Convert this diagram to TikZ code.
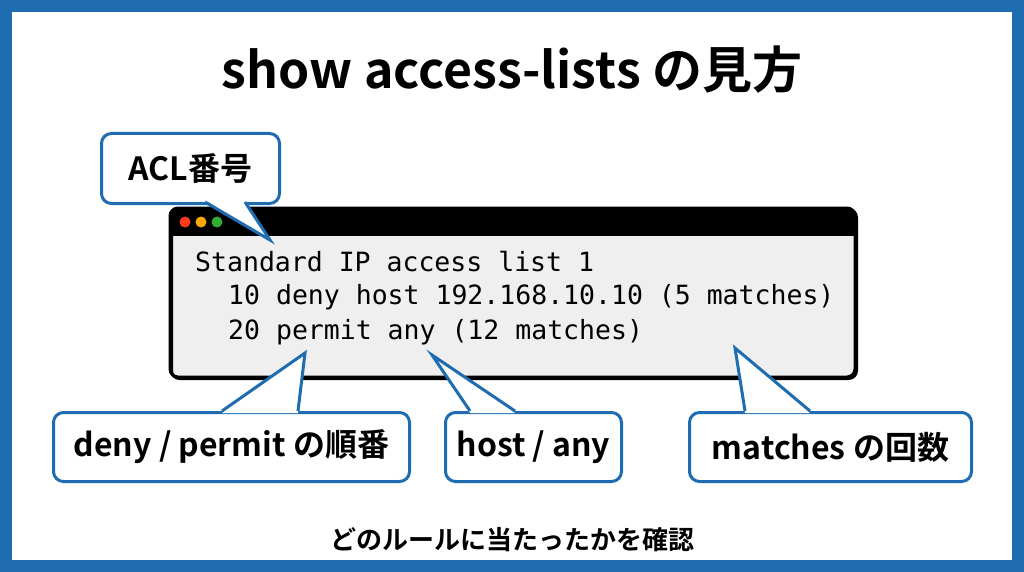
\documentclass[tikz,border=0pt]{standalone}
\usepackage{fontspec}
\newfontfamily\jp{Noto Sans CJK JP Bold}
\newfontfamily\mono{DejaVu Sans Mono}
\begin{document}
\begin{tikzpicture}[x=1pt,y=-1pt,
  callout/.style={draw=cblue,line width=3pt,fill=white,rounded corners=10pt,inner sep=0pt,anchor=north west,font=\jp\fontsize{32}{34}\selectfont},
  tail/.style={draw=cblue,line width=3pt,line join=miter},
  code/.style={anchor=west,inner sep=0pt,font=\mono\fontsize{26.5}{28}\selectfont}]
\definecolor{cblue}{HTML}{1F6DB0}
\definecolor{tgray}{HTML}{EFEFEF}
\useasboundingbox (0,0) rectangle (1024,572);
\fill[cblue] (0,0) rectangle (1024,572);
\fill[white] (12,12) rectangle (1012,560);
\node[font=\jp\fontsize{50}{54}\selectfont] (title) at (512,70) {show access-lists の見方};
% terminal
\node[draw=black,line width=3pt,fill=tgray,rounded corners=8pt,minimum width=685pt,minimum height=169pt,anchor=north west,inner sep=0pt] (term) at (170,208) {};
\begin{scope}
\clip[rounded corners=8pt] (170,208) rectangle (855,377);
\fill[black] (170,208) rectangle (855,236);
\end{scope}
\draw[black,line width=3pt,rounded corners=8pt] (170,208) rectangle (855,377);
\fill[red!70!orange!90] (185,222) circle (5.5);
\fill[orange!70!yellow] (201,222) circle (5.5);
\fill[green!60!black!80] (217,222) circle (5.5);
\node[code] (l1) at (195,262) {Standard IP access list 1};
\node[code] (l2) at (228,297) {10 deny host 192.168.10.10 (5 matches)};
\node[code] (l3) at (228,332) {20 permit any (12 matches)};
% callouts
\node[callout,minimum width=178pt,minimum height=70pt] (acl) at (100,132) {ACL番号};
\coordinate (pa) at (270,240);
\fill[white] (205,200) -- (pa) -- (245,200) -- cycle;
\draw[tail] (205,202) -- (pa) -- (245,202);
\node[callout,minimum width=356pt,minimum height=69pt] (dp) at (52,411) {deny / permit の順番};
\coordinate (pd) at (305,353);
\fill[white] (222,413) -- (pd) -- (298,413) -- cycle;
\draw[tail] (222,411) -- (pd) -- (298,411);
\node[callout,minimum width=176pt,minimum height=69pt] (ha) at (444,411) {host / any};
\coordinate (ph) at (432,355);
\fill[white] (470,413) -- (ph) -- (515,413) -- cycle;
\draw[tail] (470,411) -- (ph) -- (515,411);
\node[callout,minimum width=282pt,minimum height=69pt] (mt) at (688,411) {matches の回数};
\coordinate (pm) at (735,348);
\fill[white] (745,413) -- (pm) -- (810,413) -- cycle;
\draw[tail] (745,411) -- (pm) -- (810,411);
\node[font=\jp\fontsize{26}{28}\selectfont] (foot) at (512,540) {どのルールに当たったかを確認};
\end{tikzpicture}
\end{document}
